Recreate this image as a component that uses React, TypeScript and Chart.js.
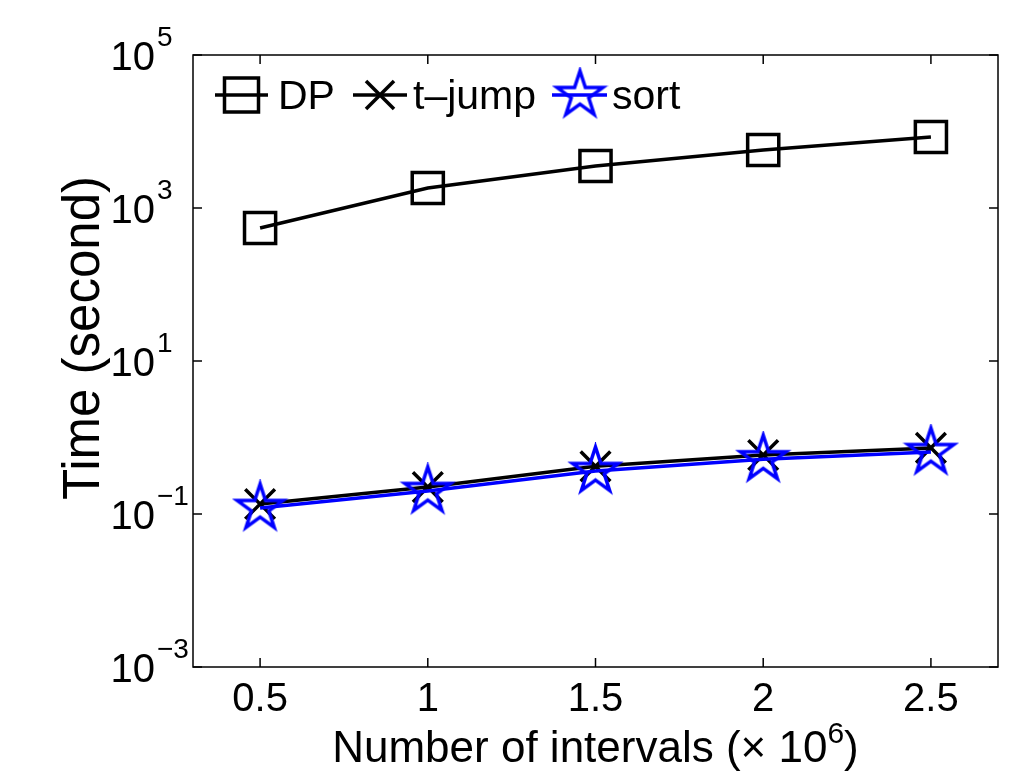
import React, { useEffect, useRef } from 'react';
import { Chart, registerables } from 'chart.js';
Chart.register(...registerables);

const intervals = [0.5, 1, 1.5, 2, 2.5];
const dpTime = [548, 1825, 3540, 5730, 8470];
const tJumpTime = [0.135, 0.225, 0.42, 0.59, 0.73];
const sortTime = [0.12, 0.2, 0.365, 0.52, 0.646];
const seriesNames = ['DP', 't\u2013jump', 'sort'];
const xTickValues = [0.5, 1, 1.5, 2, 2.5];
const xTickLabels = ['0.5', '1', '1.5', '2', '2.5'];
const yTickValues = [1e-3, 1e-1, 1e1, 1e3, 1e5];
const yTickExponents = ['\u22123', '\u22121', '1', '3', '5'];
const xTitle = 'Number of intervals (\u00d7 10';
const xTitleExp = '6';
const yTitle = 'Time (second)';

const W = 1034;
const H = 776;
const FONT = '"Liberation Sans", Arial, Helvetica, sans-serif';
const BLUE = '#0000ff';

function makeStar(R: number, color: string, lw: number): HTMLCanvasElement {
  const size = Math.ceil(2 * R + 2 * lw + 2);
  const c = document.createElement('canvas');
  c.width = size;
  c.height = size;
  const g = c.getContext('2d')!;
  const cx = size / 2;
  const cy = size / 2;
  const r = R * 0.382;
  g.beginPath();
  for (let i = 0; i < 10; i++) {
    const ang = -Math.PI / 2 + (i * Math.PI) / 5;
    const rr = i % 2 === 0 ? R : r;
    const px = cx + rr * Math.cos(ang);
    const py = cy + rr * Math.sin(ang);
    if (i === 0) g.moveTo(px, py);
    else g.lineTo(px, py);
  }
  g.closePath();
  g.strokeStyle = color;
  g.lineWidth = lw;
  g.lineJoin = 'miter';
  g.stroke();
  return c;
}

function line(ctx: CanvasRenderingContext2D, x1: number, y1: number, x2: number, y2: number) {
  ctx.beginPath();
  ctx.moveTo(x1, y1);
  ctx.lineTo(x2, y2);
  ctx.stroke();
}

export default function App() {
  const ref = useRef<HTMLCanvasElement | null>(null);

  useEffect(() => {
    document.body.style.margin = '0';
    const canvas = ref.current!;
    const star = makeStar(24, BLUE, 3.5);

    const decor = {
      id: 'matlabDecor',
      afterDraw(chart: any) {
        const { ctx, chartArea: a, scales } = chart;
        const xs = scales.x;
        const ys = scales.y;
        ctx.save();
        ctx.strokeStyle = '#000';
        ctx.fillStyle = '#000';
        ctx.lineWidth = 1.5;
        ctx.strokeRect(a.left, a.top, a.right - a.left, a.bottom - a.top);
        const tl = 9;
        xTickValues.forEach((v) => {
          const px = xs.getPixelForValue(v);
          line(ctx, px, a.bottom, px, a.bottom - tl);
          line(ctx, px, a.top, px, a.top + tl);
        });
        yTickValues.forEach((v) => {
          const py = ys.getPixelForValue(v);
          line(ctx, a.left, py, a.left + tl, py);
          line(ctx, a.right, py, a.right - tl, py);
        });

        // x tick labels
        ctx.font = `40px ${FONT}`;
        ctx.textAlign = 'center';
        ctx.textBaseline = 'alphabetic';
        xTickValues.forEach((v, i) => {
          ctx.fillText(xTickLabels[i], xs.getPixelForValue(v), a.bottom + 44);
        });

        // y tick labels
        yTickValues.forEach((v, i) => {
          const py = ys.getPixelForValue(v);
          ctx.font = `40px ${FONT}`;
          ctx.textAlign = 'right';
          ctx.fillText('10', 155, py + 15);
          ctx.font = `28px ${FONT}`;
          ctx.textAlign = 'left';
          ctx.fillText(yTickExponents[i], 157, py - 9);
        });

        // x title
        ctx.font = `44px ${FONT}`;
        const w1 = ctx.measureText(xTitle).width;
        ctx.font = `30px ${FONT}`;
        const w2 = ctx.measureText(xTitleExp).width;
        ctx.font = `44px ${FONT}`;
        const w3 = ctx.measureText(')').width;
        const total = w1 + w2 + w3;
        const sx = (a.left + a.right) / 2 - total / 2;
        const by = 762;
        ctx.textAlign = 'left';
        ctx.fillText(xTitle, sx, by);
        ctx.font = `30px ${FONT}`;
        ctx.fillText(xTitleExp, sx + w1, by - 19);
        ctx.font = `44px ${FONT}`;
        ctx.fillText(')', sx + w1 + w2, by);

        // y title
        ctx.save();
        ctx.translate(99, 338);
        ctx.rotate(-Math.PI / 2);
        ctx.textAlign = 'center';
        ctx.font = `51px ${FONT}`;
        ctx.fillText(yTitle, 0, 0);
        ctx.restore();

        // legend
        const ly = 95;
        ctx.lineWidth = 3.5;
        ctx.font = `41px ${FONT}`;
        ctx.textAlign = 'left';
        // DP
        ctx.strokeStyle = '#000';
        line(ctx, 215, ly, 268, ly);
        ctx.strokeRect(241.5 - 17, ly - 17, 34, 34);
        ctx.fillText(seriesNames[0], 278, ly + 14);
        // t-jump
        line(ctx, 353, ly, 407, ly);
        line(ctx, 380 - 14, ly - 14, 380 + 14, ly + 14);
        line(ctx, 380 - 14, ly + 14, 380 + 14, ly - 14);
        ctx.fillText(seriesNames[1], 413, ly + 14);
        // sort
        ctx.strokeStyle = BLUE;
        line(ctx, 552, ly, 607, ly);
        ctx.drawImage(star, 580 - star.width / 2, ly - star.height / 2);
        ctx.fillText(seriesNames[2], 612, ly + 14);
        ctx.restore();
      },
    };

    const chart = new Chart(canvas, {
      type: 'line',
      data: {
        datasets: [
          {
            label: seriesNames[0],
            data: intervals.map((x, i) => ({ x, y: dpTime[i] })),
            borderColor: '#000',
            borderWidth: 3.5,
            pointStyle: 'rect',
            pointRadius: 22,
            pointBorderWidth: 3.5,
            pointBorderColor: '#000',
            pointBackgroundColor: 'rgba(0,0,0,0)',
            tension: 0,
            order: 2,
          },
          {
            label: seriesNames[1],
            data: intervals.map((x, i) => ({ x, y: tJumpTime[i] })),
            borderColor: '#000',
            borderWidth: 3.5,
            pointStyle: 'crossRot',
            pointRadius: 21,
            pointBorderWidth: 3.5,
            pointBorderColor: '#000',
            pointBackgroundColor: 'rgba(0,0,0,0)',
            tension: 0,
            order: 1,
          },
          {
            label: seriesNames[2],
            data: intervals.map((x, i) => ({ x, y: sortTime[i] })),
            borderColor: BLUE,
            borderWidth: 3.5,
            pointStyle: star as any,
            pointRadius: 24,
            pointBorderColor: BLUE,
            pointBackgroundColor: 'rgba(0,0,0,0)',
            tension: 0,
            order: 0,
          },
        ],
      },
      options: {
        animation: false,
        responsive: false,
        events: [],
        layout: { padding: { left: 193, top: 55, right: W - 998, bottom: H - 667 } },
        plugins: { legend: { display: false }, tooltip: { enabled: false } },
        scales: {
          x: { type: 'linear', min: 0.3, max: 2.7, display: false },
          y: { type: 'logarithmic', min: 1e-3, max: 1e5, display: false },
        },
      },
      plugins: [decor],
    });
    return () => chart.destroy();
  }, []);

  return (
    <canvas
      ref={ref}
      width={W}
      height={H}
      style={{ display: 'block', width: W, height: H, background: '#fff' }}
    />
  );
}
